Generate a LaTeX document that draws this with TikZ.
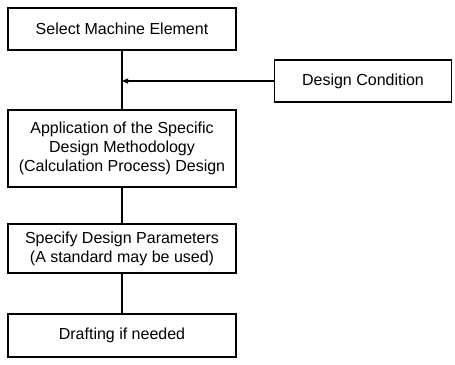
\documentclass[tikz,border=0pt]{standalone}
\usepackage{fontspec}
\setmainfont{Liberation Sans}
\usetikzlibrary{arrows.meta}
\begin{document}
\begin{tikzpicture}[x=1pt,y=-1pt,
  box/.style={draw=black,line width=1.1pt,rectangle,inner sep=0pt,align=center,
    font=\fontsize{16}{19}\selectfont,text=black},
  conn/.style={draw=black,line width=1.1pt},
  arr/.style={conn,-{Triangle[length=6pt,width=5pt]}}]
\useasboundingbox (0,0) rectangle (455,364);
\node[box,minimum width=228pt,minimum height=42pt] (b1) at (122,29) {Select Machine Element};
\node[box,minimum width=228pt,minimum height=77pt] (b2) at (122,148.5) {Application of the Specific\\Design Methodology\\(Calculation Process) Design};
\node[box,minimum width=228pt,minimum height=49pt] (b3) at (122,248.5) {Specify Design Parameters\\(A standard may be used)};
\node[box,minimum width=228pt,minimum height=43pt] (b4) at (122,335.5) {Drafting if needed};
\node[box,minimum width=177pt,minimum height=42pt] (dc) at (363,81) {Design Condition};
\coordinate (j) at (b1.south |- dc.west);
\draw[conn] (b1) -- (b2);
\draw[conn] (b2) -- (b3);
\draw[conn] (b3) -- (b4);
\draw[arr] (dc) -- (j);
\end{tikzpicture}
\end{document}
